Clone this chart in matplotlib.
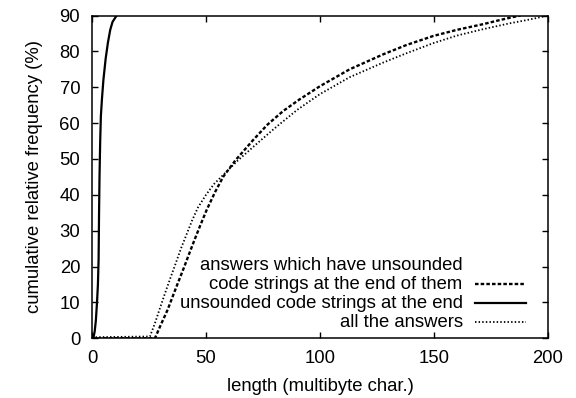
import matplotlib
matplotlib.use("Agg")
import matplotlib.pyplot as plt
from matplotlib.lines import Line2D

# ---- data ----
unsounded_x = [0.6, 1.2, 1.7, 2.2, 2.6, 2.9, 3.1, 3.3, 3.6, 3.9, 4.4, 5.0, 6.0, 7.0, 8.0, 9.0, 10.8]
unsounded_y = [0, 2, 5, 10, 15, 22, 35, 45, 55, 62, 67, 72, 78, 82.5, 86, 88.2, 90]

with_code_x = [0, 27.6, 30.0, 33.2, 36.5, 40.5, 43.0, 45.0, 47.5, 50.3, 54.0, 57.6, 63.0, 70.7,
               77.0, 83.9, 91.0, 100.0, 113.0, 127.8, 138.0, 149.7, 160.0, 171.6, 178.0, 184.8, 188.0]
with_code_y = [0, 0, 3.5, 8.0, 13.5, 20.0, 24.2, 27.5, 31.5, 35.8, 40.8, 45.1, 49.7, 55.3,
               59.6, 63.4, 66.6, 70.3, 75.0, 79.2, 81.8, 84.3, 86.0, 87.6, 88.6, 89.6, 90.0]

all_x = [0, 25.4, 27.5, 29.6, 32.0, 34.5, 36.5, 39.0, 41.5, 44.0, 46.5, 50.0, 53.5, 57.6, 64.0,
         72.2, 80.0, 90.0, 100.0, 113.0, 127.8, 138.0, 149.7, 160.0, 171.6, 183.0, 192.0, 200.0]
all_y = [0.3, 0.5, 4.0, 8.0, 12.5, 17.0, 20.5, 25.0, 29.0, 33.0, 36.5, 40.0, 43.0, 45.6, 49.6,
         54.2, 58.5, 63.7, 68.1, 72.8, 76.9, 79.5, 82.3, 84.4, 86.2, 87.8, 88.9, 90.0]

labels = ["answers which have unsounded", "code strings at the end of them",
          "unsounded code strings at the end", "all the answers"]
x_ticks = [0, 50, 100, 150, 200]
y_ticks = [0, 10, 20, 30, 40, 50, 60, 70, 80, 90]

FONT = ["Liberation Sans", "DejaVu Sans"]
FS = 13.3
plt.rcParams["font.family"] = FONT

fig = plt.figure(figsize=(5.76, 3.98), dpi=100)
ax = fig.add_axes([0.1597, 0.150, 0.7917, 0.811])

dash_style = dict(color="black", lw=1.7, linestyle=(0, (1.5, 0.9)))
solid_style = dict(color="black", lw=1.6, linestyle="-")
dot_style = dict(color="black", lw=1.3, linestyle=(0, (0.8, 1.2)))

ax.plot(with_code_x, with_code_y, **dash_style)
ax.plot(unsounded_x, unsounded_y, **solid_style)
ax.plot(all_x, all_y, **dot_style)

ax.set_xlim(0, 200)
ax.set_ylim(0, 90)
ax.set_xticks(x_ticks)
ax.set_yticks(y_ticks)
ax.tick_params(direction="in", length=4.5, width=1.0, top=True, right=True,
               labelsize=FS, pad=8.5)
for s in ax.spines.values():
    s.set_linewidth(1.1)

ax.set_xlabel("length (multibyte char.)", fontsize=FS, labelpad=8)
ax.set_ylabel("cumulative relative frequency (%)", fontsize=FS, labelpad=12)

# legend (gnuplot-style key: right-aligned text, sample on the right)
text_x = 0.813
samp_x0, samp_x1 = 0.840, 0.952
rows = [0.227, 0.167, 0.108, 0.049]
styles = [None, dash_style, solid_style, dot_style]
for lab, yy, st in zip(labels, rows, styles):
    ax.text(text_x, yy, lab, transform=ax.transAxes, ha="right", va="center",
            fontsize=FS)
    if st is not None:
        ax.add_line(Line2D([samp_x0, samp_x1], [yy, yy], transform=ax.transAxes, **st))

fig.savefig("out.png", dpi=100)
